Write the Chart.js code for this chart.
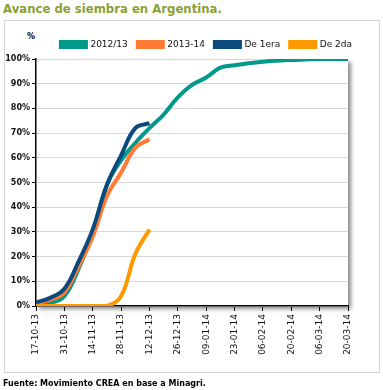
<!DOCTYPE html>
<html>
<head>
<meta charset="utf-8">
<script src="https://cdn.jsdelivr.net/npm/chart.js@4"></script>
<style>
  body { margin: 0; background: #fff; }
  #wrap { position: relative; width: 383px; height: 390px; overflow: hidden; }
  #title { position: absolute; left: 3px; top: 2px; font: bold 11.7px "DejaVu Sans", sans-serif; color: #8aa036; white-space: nowrap; }
  #box { position: absolute; left: 4px; top: 20px; width: 374px; height: 351px; border: 1px solid #d4d4d4; }
  #pct { position: absolute; left: 27px; top: 32px; font: bold 8px "DejaVu Sans", sans-serif; color: #000; }
  #source { position: absolute; left: 3px; top: 379px; font: bold 8px "DejaVu Sans", sans-serif; color: #000; white-space: nowrap; }
  canvas { position: absolute; left: 0; top: 0; }
</style>
</head>
<body>
<div id="wrap">
  <div id="title">Avance de siembra en Argentina.</div>
  <div id="box"></div>
  <div id="pct">%</div>
  <canvas id="lineChart" width="383" height="390"></canvas>
  <div id="source">Fuente: Movimiento CREA en base a Minagri.</div>
</div>
<script>
// days since 17-10 (weekly readings)
const weekDays = [0, 7, 14, 21, 28, 35, 42, 49, 56, 63, 70, 77, 84, 91, 98, 105, 112, 119, 126, 133, 140, 147, 154];
const tickLabels = ['17-10-13', '31-10-13', '14-11-13', '28-11-13', '12-12-13', '26-12-13',
  '09-01-14', '23-01-14', '06-02-14', '20-02-14', '06-03-14', '20-03-14'];

const camp1213 = [1, 1.2, 4, 15, 30, 49, 59, 66, 72, 77.5, 84.5, 89.5, 92.5, 96.5, 97.5, 98.3, 98.9, 99.3, 99.6, 99.8, 100, 100, 100];
const camp1314 = [1, 2.5, 5.5, 16, 28, 44.5, 54, 64, 67.5];
const primera = [1.5, 3.3, 7, 18, 31, 49, 61, 72, 74];
const segunda = [0, 0, 0, 0, 0, 0, 4, 21, 31];

const toPoints = vals => vals.map((v, i) => ({ x: weekDays[i], y: v }));

const shadowPlugin = {
  id: 'plotShadow',
  beforeDraw(chart) {
    const { ctx, chartArea: a } = chart;
    ctx.save();
    ctx.shadowColor = 'rgba(0,0,0,0.45)';
    ctx.shadowBlur = 4;
    ctx.shadowOffsetX = 3;
    ctx.shadowOffsetY = 3;
    ctx.fillStyle = '#fff';
    ctx.fillRect(a.left, a.top, a.right - a.left, a.bottom - a.top);
    ctx.restore();
  }
};

const lineData = {
  datasets: [
    { label: '2012/13', data: toPoints(camp1213), borderColor: '#00998c', backgroundColor: '#00998c', order: 4 },
    { label: '2013-14', data: toPoints(camp1314), borderColor: '#ff7a33', backgroundColor: '#ff7a33', order: 3 },
    { label: 'De 1era', data: toPoints(primera), borderColor: '#0b4a7d', backgroundColor: '#0b4a7d', order: 2 },
    { label: 'De 2da', data: toPoints(segunda), borderColor: '#ff9900', backgroundColor: '#ff9900', order: 1 }
  ]
};

const lineConfig = {
  type: 'line',
  data: lineData,
  options: {
    responsive: false,
    animation: false,
    layout: { padding: { top: 30, right: 21, left: 0, bottom: 28 } },
    elements: {
      line: { borderWidth: 4, tension: 0.4 },
      point: { radius: 0 }
    },
    plugins: {
      tooltip: { enabled: false },
      legend: {
        display: true,
        align: 'end',
        labels: {
          boxWidth: 25,
          boxHeight: 5,
          padding: 10,
          color: '#111',
          font: { family: 'DejaVu Sans', size: 9 },
          sort: (a, b) => a.datasetIndex - b.datasetIndex
        }
      }
    },
    scales: {
      x: {
        type: 'linear',
        min: 0,
        max: 154,
        afterBuildTicks: scale => { scale.ticks = tickLabels.map((t, i) => ({ value: i * 14 })); },
        afterFit: scale => { scale.height = 56; },
        grid: { drawOnChartArea: false, tickLength: 5, tickColor: '#000' },
        border: { color: '#000', width: 1.5 },
        ticks: {
          minRotation: 90,
          maxRotation: 90,
          color: '#111',
          font: { family: 'DejaVu Sans', size: 9 },
          callback: (v) => tickLabels[Math.round(v / 14)]
        }
      },
      y: {
        min: 0,
        max: 100,
        afterFit: scale => { scale.width = 36; },
        grid: { color: '#d9d9d9', tickLength: 4, tickColor: '#000' },
        border: { color: '#000', width: 1.5 },
        ticks: {
          stepSize: 10,
          color: '#111',
          font: { family: 'DejaVu Sans', size: 8, weight: 'bold' },
          padding: 2,
          callback: v => v + '%'
        }
      },
      yRight: {
        position: 'right',
        min: 0,
        max: 100,
        afterFit: scale => { scale.width = 14; },
        grid: { display: false },
        border: { display: false },
        ticks: { display: false }
      }
    }
  },
  plugins: [shadowPlugin]
};

const myLineChart = new Chart(document.getElementById('lineChart'), lineConfig);
</script>
</body>
</html>
